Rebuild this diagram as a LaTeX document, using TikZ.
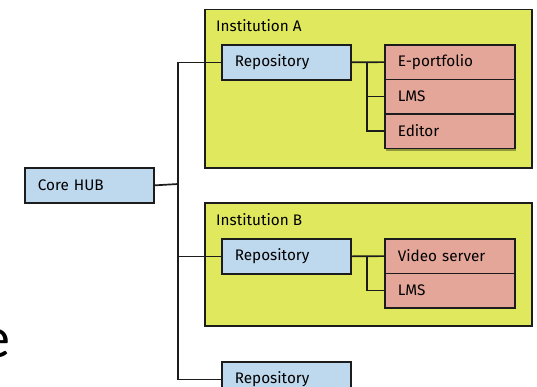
\documentclass[tikz,border=0pt]{standalone}
\usepackage{fontspec}
\setmainfont{Fira Sans}
\newfontfamily\bigfont{Carlito}
\usetikzlibrary{shadows}
\definecolor{instyellow}{RGB}{224,233,94}
\definecolor{repoblue}{RGB}{190,216,237}
\definecolor{appred}{RGB}{228,166,152}
\definecolor{edge}{RGB}{28,28,28}
\tikzset{
  x=1pt, y=-1pt,
  shad/.style={drop shadow={shadow xshift=1.5pt, shadow yshift=-1.5pt, opacity=0.35, fill=black}},
  bluebox/.style={draw=edge, line width=1.7pt, fill=repoblue, shad, minimum width=129pt, minimum height=35pt, text width=103pt, inner xsep=13pt, inner ysep=0pt, align=left, anchor=north west, font=\fontsize{15.3}{17}\selectfont},
  redbox/.style={draw=edge, line width=1.7pt, fill=appred, minimum width=130pt, minimum height=34.5pt, text width=104pt, inner xsep=13pt, inner ysep=0pt, align=left, anchor=north west, font=\fontsize{15.3}{17}\selectfont},
  instbox/.style={draw=edge, line width=1.7pt, fill=instyellow, shad, anchor=north west, inner sep=0pt},
  insttitle/.style={anchor=base west, inner sep=0pt, font=\fontsize{15.3}{17}\selectfont},
  wire/.style={draw=edge, line width=1.7pt}
}
\begin{document}
\begin{tikzpicture}
\useasboundingbox (0,0) rectangle (537,386);
% Institution boxes
\node[instbox, minimum width=327pt, minimum height=158.5pt] (instA) at (204,8.5) {};
\node[insttitle] (titleA) at (216,31.5) {Institution A};
\node[instbox, minimum width=327pt, minimum height=123pt] (instB) at (204,202) {};
\node[insttitle] (titleB) at (216,225.5) {Institution B};
% blue boxes
\node[bluebox] (hub) at (24,167) {Core HUB};
\node[bluebox] (repoA) at (221,44) {Repository};
\node[bluebox] (repoB) at (221,238) {Repository};
\node[bluebox] (repoC) at (221,361) {Repository};
% red stacks (shadow behind)
\fill[black, opacity=0.35] (385.5,45.5) rectangle (515.5,150.5);
\node[redbox] (eport) at (384,44) {E-portfolio};
\node[redbox] (lmsA) at (384,78.5) {LMS};
\node[redbox] (editor) at (384,113) {Editor};
\fill[black, opacity=0.35] (385.5,239.5) rectangle (515.5,308.5);
\node[redbox] (video) at (384,238) {Video server};
\node[redbox] (lmsB) at (384,272.5) {LMS};
% trunk
\coordinate (tr) at (178,184);
\draw[wire] (hub.east) -- (tr);
\draw[wire] (repoA.west) -- (repoA.west -| tr) -- (repoC.west -| tr) -- (repoC.west);
\draw[wire] (repoB.west) -- (repoB.west -| tr);
% branches A
\coordinate (ja) at (367,61);
\draw[wire] (repoA.east) -- (eport.west);
\draw[wire] (eport.west -| ja) |- (editor.west);
\draw[wire] (lmsA.west -| ja) -- (lmsA.west);
% branches B
\coordinate (jb) at (367,255);
\draw[wire] (repoB.east) -- (video.west);
\draw[wire] (video.west -| jb) |- (lmsB.west);
% partial letter at left edge
\node[anchor=base east, inner sep=0pt, font=\bigfont\fontsize{58}{60}\selectfont] (frag) at (10.5,357) {e};
\end{tikzpicture}
\end{document}
